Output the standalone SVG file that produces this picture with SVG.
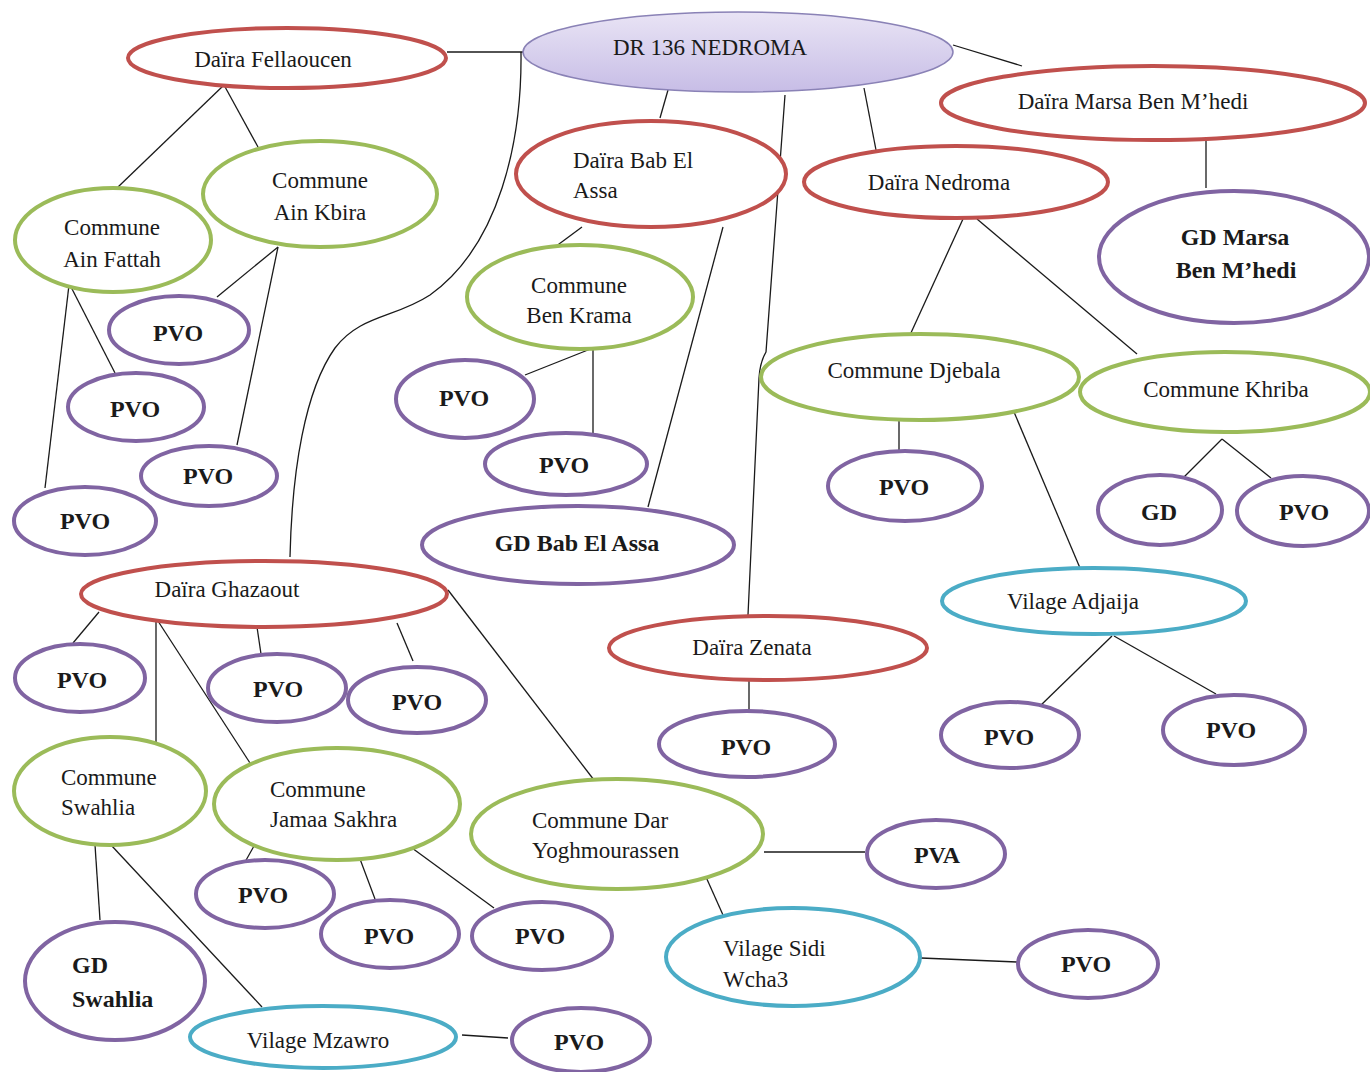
<svg xmlns="http://www.w3.org/2000/svg" width="1370" height="1072" viewBox="0 0 1370 1072" font-family="'Liberation Serif', 'DejaVu Serif', serif">
<defs>
<linearGradient id="rootGrad" x1="0" y1="0" x2="0" y2="1">
<stop offset="0" stop-color="#e9e4f5"/>
<stop offset="1" stop-color="#c7bde6"/>
</linearGradient>
</defs>
<style>
.bg{fill:#ffffff}
.n ellipse{fill:#ffffff;stroke-width:4}
.red ellipse{stroke:#c0504d}
.green ellipse{stroke:#9bbb59}
.purple ellipse{stroke:#8064a2}
.cyan ellipse{stroke:#4bacc6}
.root ellipse{fill:url(#rootGrad);stroke:#8a82b6;stroke-width:1.5}
text{font-family:'Liberation Serif','DejaVu Serif',serif;font-size:23px;fill:#1a1a1a}
.c{text-anchor:middle}
.b{font-weight:bold;font-size:24px}
#connectors line,#connectors path{stroke:#1a1a1a;stroke-width:1.3;fill:none}
</style>
<rect class="bg" x="0" y="0" width="1370" height="1072"/>
<g id="connectors">
<line x1="447" y1="52" x2="523" y2="52"/>
<path d="M521,52 C522,140 500,245 430,295 C395,318 360,315 335,348 C305,390 292,470 290,557"/>
<line x1="953" y1="45" x2="1022" y2="66"/>
<line x1="668" y1="90" x2="660" y2="118"/>
<line x1="864" y1="88" x2="876" y2="150"/>
<path d="M785,95 L766,352 Q760,362 759,378 L748,615"/>
<line x1="224" y1="85" x2="118" y2="187"/>
<line x1="224" y1="85" x2="258" y2="147"/>
<line x1="70" y1="285" x2="115" y2="373"/>
<line x1="69" y1="285" x2="45" y2="488"/>
<line x1="278" y1="247" x2="217" y2="297"/>
<line x1="278" y1="247" x2="237" y2="445"/>
<line x1="582" y1="227" x2="555" y2="247"/>
<line x1="723" y1="227" x2="648" y2="507"/>
<line x1="593" y1="348" x2="525" y2="375"/>
<line x1="593" y1="348" x2="593" y2="436"/>
<line x1="1206" y1="140" x2="1206" y2="188"/>
<line x1="963" y1="219" x2="910" y2="335"/>
<line x1="977" y1="219" x2="1137" y2="354"/>
<line x1="899" y1="421" x2="899" y2="451"/>
<line x1="1014" y1="412" x2="1080" y2="568"/>
<line x1="1222" y1="439" x2="1184" y2="477"/>
<line x1="1222" y1="439" x2="1271" y2="478"/>
<line x1="1112" y1="636" x2="1039" y2="707"/>
<line x1="1114" y1="636" x2="1216" y2="694"/>
<line x1="749" y1="681" x2="749" y2="711"/>
<line x1="99" y1="612" x2="73" y2="643"/>
<line x1="156" y1="618" x2="156" y2="742"/>
<line x1="156" y1="618" x2="250" y2="763"/>
<line x1="257" y1="627" x2="261" y2="654"/>
<line x1="397" y1="623" x2="413" y2="661"/>
<line x1="448" y1="590" x2="594" y2="780"/>
<line x1="95" y1="845" x2="100" y2="920"/>
<line x1="111" y1="845" x2="262" y2="1007"/>
<line x1="254" y1="846" x2="245" y2="862"/>
<line x1="360" y1="859" x2="375" y2="899"/>
<line x1="412" y1="848" x2="494" y2="908"/>
<line x1="462" y1="1035" x2="508" y2="1038"/>
<line x1="764" y1="852" x2="865" y2="852"/>
<line x1="706" y1="877" x2="723" y2="915"/>
<line x1="921" y1="958" x2="1017" y2="962"/>
</g>
<g id="root" class="n root"><ellipse cx="738" cy="52" rx="215" ry="40"/><text class="c" x="710" y="55">DR 136 NEDROMA</text></g>
<g id="daira-fellaoucen" class="n red"><ellipse cx="287" cy="58" rx="159" ry="30"/><text class="c" x="273" y="67">Daïra Fellaoucen</text></g>
<g id="daira-marsa" class="n red"><ellipse cx="1153" cy="103" rx="212" ry="37"/><text class="c" x="1133" y="109">Daïra Marsa Ben M’hedi</text></g>
<g id="daira-babelassa" class="n red"><ellipse cx="651" cy="174" rx="135" ry="53"/><text x="573" y="168">Daïra Bab El</text><text x="573" y="198">Assa</text></g>
<g id="daira-nedroma" class="n red"><ellipse cx="956" cy="182" rx="152" ry="36"/><text class="c" x="939" y="190">Daïra Nedroma</text></g>
<g id="gd-marsa" class="n purple"><ellipse cx="1234" cy="257" rx="135" ry="66"/><text class="c b" x="1235" y="245">GD Marsa</text><text class="c b" x="1236" y="278">Ben M’hedi</text></g>
<g id="commune-ainfattah" class="n green"><ellipse cx="113" cy="240" rx="98" ry="52"/><text class="c" x="112" y="235">Commune</text><text class="c" x="112" y="267">Ain Fattah</text></g>
<g id="commune-ainkbira" class="n green"><ellipse cx="320" cy="194" rx="117" ry="53"/><text class="c" x="320" y="188">Commune</text><text class="c" x="320" y="220">Ain Kbira</text></g>
<g id="pvo-ak1" class="n purple"><ellipse cx="179" cy="330" rx="70" ry="34"/><text class="c b" x="178" y="341">PVO</text></g>
<g id="pvo-af1" class="n purple"><ellipse cx="136" cy="407" rx="68" ry="34"/><text class="c b" x="135" y="417">PVO</text></g>
<g id="pvo-ak2" class="n purple"><ellipse cx="209" cy="476" rx="68" ry="30"/><text class="c b" x="208" y="484">PVO</text></g>
<g id="pvo-af2" class="n purple"><ellipse cx="85" cy="521" rx="71" ry="34"/><text class="c b" x="85" y="529">PVO</text></g>
<g id="commune-benkrama" class="n green"><ellipse cx="580" cy="297" rx="113" ry="52"/><text class="c" x="579" y="293">Commune</text><text class="c" x="579" y="323">Ben Krama</text></g>
<g id="pvo-bk1" class="n purple"><ellipse cx="465" cy="399" rx="69" ry="39"/><text class="c b" x="464" y="406">PVO</text></g>
<g id="pvo-bk2" class="n purple"><ellipse cx="566" cy="464" rx="81" ry="31"/><text class="c b" x="564" y="473">PVO</text></g>
<g id="gd-babelassa" class="n purple"><ellipse cx="578" cy="545" rx="156" ry="39"/><text class="c b" x="577" y="551">GD Bab El Assa</text></g>
<g id="commune-djebala" class="n green"><ellipse cx="920" cy="377" rx="159" ry="43"/><text class="c" x="914" y="378">Commune Djebala</text></g>
<g id="commune-khriba" class="n green"><ellipse cx="1225" cy="392" rx="145" ry="40"/><text class="c" x="1226" y="397">Commune Khriba</text></g>
<g id="pvo-dj" class="n purple"><ellipse cx="905" cy="486" rx="77" ry="35"/><text class="c b" x="904" y="495">PVO</text></g>
<g id="gd-khriba" class="n purple"><ellipse cx="1160" cy="510" rx="62" ry="35"/><text class="c b" x="1159" y="520">GD</text></g>
<g id="pvo-kh" class="n purple"><ellipse cx="1303" cy="511" rx="66" ry="35"/><text class="c b" x="1304" y="520">PVO</text></g>
<g id="vilage-adjaija" class="n cyan"><ellipse cx="1094" cy="601" rx="152" ry="33"/><text class="c" x="1073" y="609">Vilage Adjaija</text></g>
<g id="pvo-adj1" class="n purple"><ellipse cx="1010" cy="735" rx="69" ry="33"/><text class="c b" x="1009" y="745">PVO</text></g>
<g id="pvo-adj2" class="n purple"><ellipse cx="1234" cy="730" rx="71" ry="35"/><text class="c b" x="1231" y="738">PVO</text></g>
<g id="daira-zenata" class="n red"><ellipse cx="768" cy="648" rx="159" ry="32"/><text class="c" x="752" y="655">Daïra Zenata</text></g>
<g id="pvo-zen" class="n purple"><ellipse cx="747" cy="744" rx="88" ry="33"/><text class="c b" x="746" y="755">PVO</text></g>
<g id="daira-ghazaout" class="n red"><ellipse cx="264" cy="594" rx="183" ry="33"/><text class="c" x="227" y="597">Daïra Ghazaout</text></g>
<g id="pvo-gh1" class="n purple"><ellipse cx="80" cy="678" rx="65" ry="34"/><text class="c b" x="82" y="688">PVO</text></g>
<g id="pvo-gh2" class="n purple"><ellipse cx="277" cy="688" rx="69" ry="34"/><text class="c b" x="278" y="697">PVO</text></g>
<g id="pvo-gh3" class="n purple"><ellipse cx="417" cy="700" rx="69" ry="33"/><text class="c b" x="417" y="710">PVO</text></g>
<g id="commune-swahlia" class="n green"><ellipse cx="110" cy="791" rx="96" ry="54"/><text x="61" y="785">Commune</text><text x="61" y="815">Swahlia</text></g>
<g id="commune-jamaasakhra" class="n green"><ellipse cx="337" cy="804" rx="123" ry="56"/><text x="270" y="797">Commune</text><text x="270" y="827">Jamaa Sakhra</text></g>
<g id="commune-daryoghmourassen" class="n green"><ellipse cx="617" cy="834" rx="146" ry="55"/><text x="532" y="828">Commune Dar</text><text x="532" y="858">Yoghmourassen</text></g>
<g id="pva" class="n purple"><ellipse cx="936" cy="854" rx="69" ry="34"/><text class="c b" x="937" y="863">PVA</text></g>
<g id="pvo-js1" class="n purple"><ellipse cx="265" cy="894" rx="69" ry="34"/><text class="c b" x="263" y="903">PVO</text></g>
<g id="pvo-js2" class="n purple"><ellipse cx="390" cy="934" rx="69" ry="34"/><text class="c b" x="389" y="944">PVO</text></g>
<g id="pvo-js3" class="n purple"><ellipse cx="542" cy="936" rx="70" ry="34"/><text class="c b" x="540" y="944">PVO</text></g>
<g id="gd-swahlia" class="n purple"><ellipse cx="115" cy="981" rx="90" ry="59"/><text class="b" x="72" y="973">GD</text><text class="b" x="72" y="1007">Swahlia</text></g>
<g id="vilage-mzawro" class="n cyan"><ellipse cx="323" cy="1037" rx="133" ry="31"/><text class="c" x="318" y="1048">Vilage Mzawro</text></g>
<g id="pvo-mz" class="n purple"><ellipse cx="581" cy="1040" rx="69" ry="32"/><text class="c b" x="579" y="1050">PVO</text></g>
<g id="vilage-sidiwcha3" class="n cyan"><ellipse cx="793" cy="957" rx="127" ry="49"/><text x="723" y="956">Vilage Sidi</text><text x="723" y="987">Wcha3</text></g>
<g id="pvo-sidi" class="n purple"><ellipse cx="1088" cy="964" rx="70" ry="34"/><text class="c b" x="1086" y="972">PVO</text></g>
</svg>
